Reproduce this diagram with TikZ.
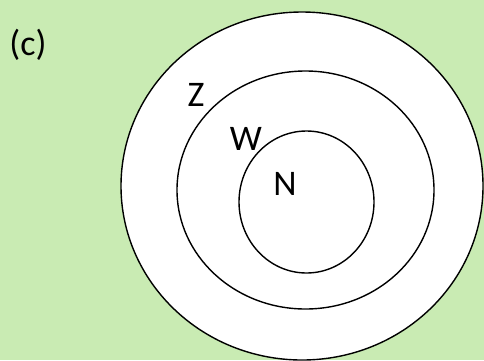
\documentclass[tikz,border=0pt]{standalone}
\usepackage{fontspec}
\setmainfont{Carlito}
\usepackage{tikz}
\definecolor{bggreen}{HTML}{C9EBB3}

\begin{document}
\begin{tikzpicture}[x=1pt,y=-1pt,
	ring/.style={draw=black,line width=1.4pt,fill=white},
	setlabel/.style={font=\fontsize{36}{42}\selectfont,inner sep=0pt}]
	\fill[bggreen] (0,0) rectangle (484,360);
	\useasboundingbox (0,0) rectangle (484,360);
	\draw[ring] (302,186) ellipse (181 and 174);
	\draw[ring] (305.5,190) ellipse (128.5 and 119);
	\draw[ring] (306.5,202) ellipse (67.5 and 71);
	\node[setlabel] (part) at (28,45) {(c)};
	\node[setlabel] (zset) at (196,95) {Z};
	\node[setlabel] (wset) at (246,139) {W};
	\node[setlabel] (nset) at (285,184) {N};
\end{tikzpicture}
\end{document}
